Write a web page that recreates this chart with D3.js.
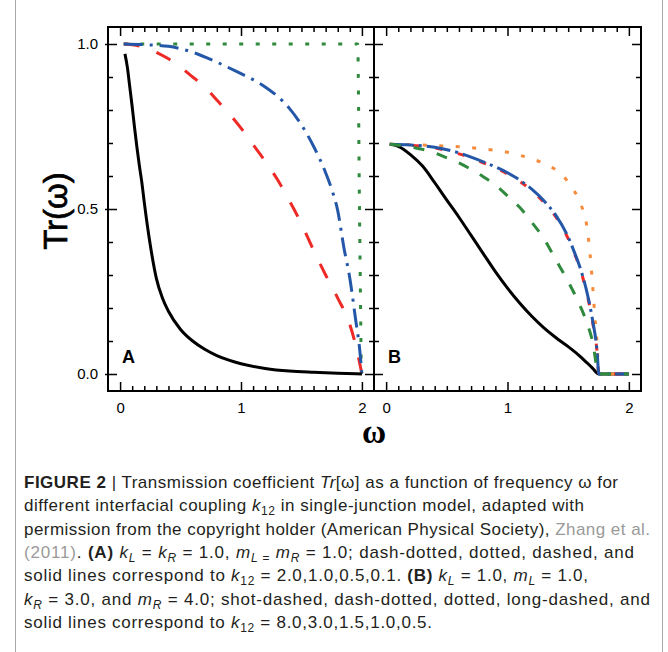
<!DOCTYPE html>
<html>
<head>
<meta charset="utf-8">
<script src="https://cdn.jsdelivr.net/npm/d3@7"></script>
<style>
  body { margin: 0; background: #fff; }
  svg { display: block; font-family: "Liberation Sans", Arial, Helvetica, sans-serif; }
</style>
</head>
<body>
<div id="chart"></div>
<script>
// Panel A: kL = kR = 1.0, mL = mR = 1.0
const omegaA_k20 = [0.03, 0.2, 0.4, 0.6, 0.8, 1.0, 1.1, 1.2, 1.3, 1.4, 1.5, 1.6, 1.7, 1.75, 1.8, 1.85, 1.9, 1.95, 1.98, 2.0];
const trA_k20 = [1.0, 0.998, 0.993, 0.975, 0.945, 0.91, 0.892, 0.87, 0.842, 0.805, 0.755, 0.69, 0.61, 0.56, 0.495, 0.385, 0.29, 0.16, 0.08, 0.0];

const omegaA_k10 = [0.03, 1.965, 1.98, 1.995];
const trA_k10 = [1.0, 1.0, 0.5, 0.0];

const omegaA_k05 = [0.03, 0.1, 0.2, 0.3, 0.4, 0.5, 0.6, 0.7, 0.8, 0.9, 1.0, 1.1, 1.2, 1.3, 1.4, 1.5, 1.6, 1.7, 1.8, 1.9, 1.95, 2.0];
const trA_k05 = [1.0, 0.998, 0.99, 0.975, 0.955, 0.93, 0.90, 0.87, 0.83, 0.79, 0.745, 0.695, 0.645, 0.59, 0.525, 0.455, 0.375, 0.30, 0.23, 0.15, 0.085, 0.0];

const omegaA_k01 = [0.04, 0.06, 0.08, 0.1, 0.12, 0.14, 0.16, 0.18, 0.2, 0.25, 0.3, 0.35, 0.4, 0.5, 0.6, 0.7, 0.8, 0.9, 1.0, 1.2, 1.4, 1.6, 1.8, 2.0];
const trA_k01 = [0.97, 0.93, 0.87, 0.81, 0.745, 0.685, 0.63, 0.58, 0.52, 0.39, 0.29, 0.23, 0.19, 0.135, 0.10, 0.075, 0.056, 0.042, 0.031, 0.017, 0.009, 0.005, 0.002, 0.0];

// Panel B: kL = 1.0, mL = 1.0, kR = 3.0, mR = 4.0
const omegaB_k80 = [0.03, 0.2, 0.4, 0.6, 0.8, 1.0, 1.1, 1.2, 1.3, 1.4, 1.5, 1.55, 1.6, 1.65, 1.7, 1.74, 1.752, 2.0];
const trB_k80 = [0.696, 0.693, 0.685, 0.667, 0.64, 0.606, 0.584, 0.556, 0.52, 0.475, 0.41, 0.367, 0.317, 0.25, 0.16, 0.058, 0.0, 0.0];

const omegaB_k30 = [0.03, 0.2, 0.4, 0.6, 0.8, 1.0, 1.1, 1.2, 1.3, 1.4, 1.5, 1.55, 1.6, 1.65, 1.7, 1.74, 1.752, 2.0];
const trB_k30 = [0.696, 0.694, 0.687, 0.67, 0.643, 0.61, 0.588, 0.56, 0.525, 0.48, 0.415, 0.37, 0.32, 0.255, 0.165, 0.06, 0.0, 0.0];

const omegaB_k15 = [0.03, 0.2, 0.4, 0.6, 0.8, 1.0, 1.1, 1.2, 1.3, 1.4, 1.5, 1.55, 1.6, 1.65, 1.68, 1.7, 1.72, 1.74, 1.752, 2.0];
const trB_k15 = [0.696, 0.695, 0.692, 0.689, 0.682, 0.672, 0.663, 0.652, 0.638, 0.618, 0.582, 0.555, 0.517, 0.456, 0.365, 0.275, 0.174, 0.083, 0.0, 0.0];

const omegaB_k10 = [0.03, 0.2, 0.4, 0.5, 0.6, 0.7, 0.8, 0.9, 1.0, 1.1, 1.2, 1.3, 1.4, 1.5, 1.6, 1.65, 1.7, 1.752, 2.0];
const trB_k10 = [0.696, 0.688, 0.67, 0.655, 0.64, 0.62, 0.598, 0.573, 0.54, 0.505, 0.46, 0.41, 0.345, 0.28, 0.205, 0.16, 0.10, 0.0, 0.0];

const omegaB_k05 = [0.03, 0.1, 0.2, 0.3, 0.4, 0.5, 0.6, 0.7, 0.8, 0.9, 1.0, 1.1, 1.2, 1.3, 1.4, 1.5, 1.6, 1.7, 1.752, 2.0];
const trB_k05 = [0.696, 0.69, 0.665, 0.63, 0.58, 0.527, 0.475, 0.42, 0.365, 0.31, 0.26, 0.215, 0.175, 0.14, 0.11, 0.083, 0.053, 0.018, 0.0, 0.0];

// Tick values and labels
const xMajorTicks = [0, 1, 2];
const xMinorTicks = [0.1, 0.2, 0.3, 0.4, 0.5, 0.6, 0.7, 0.8, 0.9, 1.1, 1.2, 1.3, 1.4, 1.5, 1.6, 1.7, 1.8, 1.9];
const yMajorTicks = [0, 0.5, 1.0];
const yMinorTicks = [0.1, 0.2, 0.3, 0.4, 0.6, 0.7, 0.8, 0.9];

// Caption lines (text, style)
const captionLines = [
    [["FIGURE 2", "bold"], [" | Transmission coefficient ", ""], ["Tr", "ital"], ["[ω] as a function of frequency ω for", ""]],
    [["different interfacial coupling ", ""], ["k", "ital"], ["12", "sub"], [" in single-junction model, adapted with", ""]],
    [["permission from the copyright holder (American Physical Society), ", ""], ["Zhang et al.", "gray"]],
    [["(2011)", "gray"], [". ", ""], ["(A)", "bold"], [" ", ""], ["k", "ital"], ["L", "subital"], [" = ", ""], ["k", "ital"], ["R", "subital"], [" = 1.0, ", ""], ["m", "ital"], ["L =", "subital"], [" ", ""], ["m", "ital"], ["R", "subital"], [" = 1.0; dash-dotted, dotted, dashed, and", ""]],
    [["solid lines correspond to ", ""], ["k", "ital"], ["12", "sub"], [" = 2.0,1.0,0.5,0.1. ", ""], ["(B)", "bold"], [" ", ""], ["k", "ital"], ["L", "subital"], [" = 1.0, ", ""], ["m", "ital"], ["L", "subital"], [" = 1.0,", ""]],
    [["k", "ital"], ["R", "subital"], [" = 3.0, and ", ""], ["m", "ital"], ["R", "subital"], [" = 4.0; shot-dashed, dash-dotted, dotted, long-dashed, and", ""]],
    [["solid lines correspond to ", ""], ["k", "ital"], ["12", "sub"], [" = 8.0,3.0,1.5,1.0,0.5.", ""]]
];
const captionWidths = [594, 560, 626, 610, 564, 626, 408];

const width = 668;
const height = 652;

const svg = d3.select("#chart")
    .append("svg")
    .attr("width", width)
    .attr("height", height);

// Frame lines of the figure box
[15.5, 662.5].forEach(x => {
    svg.append("line")
        .attr("x1", x).attr("x2", x)
        .attr("y1", 0).attr("y2", height)
        .attr("stroke", "#a8a8a8")
        .attr("stroke-width", 1);
});

// Scales
const plotTop = 27, plotBottom = 391;
const y = d3.scaleLinear().domain([-0.0515, 1.0515]).range([plotBottom, plotTop]);
const xA = d3.scaleLinear().domain([-0.1, 2.1]).range([108, 374]);
const xB = d3.scaleLinear().domain([-0.1, 2.1]).range([374, 641]);

const colors = {
    black: "#000000",
    red: "#ee2a27",
    blue: "#2457a8",
    green: "#2f8a3d",
    orange: "#f68b3b"
};

const panels = [
    {
        x: xA, label: "A", yLabels: true,
        curves: [
            { w: omegaA_k10, t: trA_k10, color: colors.green, dash: "4,12.5" },
            { w: omegaA_k05, t: trA_k05, color: colors.red, dash: "16,18" },
            { w: omegaA_k20, t: trA_k20, color: colors.blue, dash: "19,7,3,7" },
            { w: omegaA_k01, t: trA_k01, color: colors.black, dash: null }
        ]
    },
    {
        x: xB, label: "B", yLabels: false,
        curves: [
            { w: omegaB_k05, t: trB_k05, color: colors.black, dash: null },
            { w: omegaB_k15, t: trB_k15, color: colors.orange, dash: "4,12.5" },
            { w: omegaB_k80, t: trB_k80, color: colors.red, dash: "7,16" },
            { w: omegaB_k30, t: trB_k30, color: colors.blue, dash: "24,5,3,5" },
            { w: omegaB_k10, t: trB_k10, color: colors.green, dash: "11,13" }
        ]
    }
];

function styleAxis(g) {
    g.select(".domain").remove();
    g.selectAll(".tick line").attr("stroke", "#000").attr("stroke-width", 1.5);
    g.selectAll(".tick text")
        .attr("fill", "#000")
        .style("font-family", "'Liberation Sans', Arial, sans-serif")
        .style("font-size", "15px");
}

panels.forEach(p => {
    const x = p.x;
    const g = svg.append("g");

    // Curves
    const line = d3.line()
        .x(d => x(d[0]))
        .y(d => y(d[1]))
        .curve(d3.curveMonotoneX);

    p.curves.forEach(c => {
        g.append("path")
            .datum(d3.zip(c.w, c.t))
            .attr("d", line)
            .attr("fill", "none")
            .attr("stroke", c.color)
            .attr("stroke-width", 3)
            .attr("stroke-dasharray", c.dash);
    });

    // Bottom ticks
    g.append("g").attr("transform", `translate(0,${plotBottom})`)
        .call(d3.axisBottom(x).tickValues(xMinorTicks).tickSize(-5).tickFormat(""))
        .call(styleAxis);
    g.append("g").attr("transform", `translate(0,${plotBottom})`)
        .call(d3.axisBottom(x).tickValues(xMajorTicks).tickSize(-9).tickPadding(11).tickFormat(d3.format("d")))
        .call(styleAxis);

    // Top ticks
    g.append("g").attr("transform", `translate(0,${plotTop})`)
        .call(d3.axisTop(x).tickValues(xMinorTicks).tickSize(-5).tickFormat(""))
        .call(styleAxis);
    g.append("g").attr("transform", `translate(0,${plotTop})`)
        .call(d3.axisTop(x).tickValues(xMajorTicks).tickSize(-9).tickFormat(""))
        .call(styleAxis);

    // Left ticks
    const x0 = x.range()[0], x1 = x.range()[1];
    g.append("g").attr("transform", `translate(${x0},0)`)
        .call(d3.axisLeft(y).tickValues(yMinorTicks).tickSize(-5).tickFormat(""))
        .call(styleAxis);
    const leftMajor = g.append("g").attr("transform", `translate(${x0},0)`)
        .call(d3.axisLeft(y).tickValues(yMajorTicks).tickSize(-9).tickPadding(10)
            .tickFormat(p.yLabels ? d3.format(".1f") : ""))
        .call(styleAxis);
    if (p.yLabels) leftMajor.selectAll(".tick line").attr("x1", -3);

    // Right ticks
    g.append("g").attr("transform", `translate(${x1},0)`)
        .call(d3.axisRight(y).tickValues(yMinorTicks).tickSize(-5).tickFormat(""))
        .call(styleAxis);
    g.append("g").attr("transform", `translate(${x1},0)`)
        .call(d3.axisRight(y).tickValues(yMajorTicks).tickSize(-9).tickFormat(""))
        .call(styleAxis);

    // Frame
    g.append("rect")
        .attr("x", x0).attr("y", plotTop)
        .attr("width", x1 - x0).attr("height", plotBottom - plotTop)
        .attr("fill", "none")
        .attr("stroke", "#000")
        .attr("stroke-width", 2);

    // Panel letter
    g.append("text")
        .attr("x", x0 + 14)
        .attr("y", 363)
        .style("font-size", "18px")
        .style("font-weight", "bold")
        .text(p.label);
});

// Axis titles
svg.append("text")
    .attr("transform", "translate(67,211) rotate(-90)")
    .attr("text-anchor", "middle")
    .attr("stroke", "#000")
    .attr("stroke-width", 0.7)
    .style("font-size", "33px")
    .text("Tr(ω)");

svg.append("text")
    .attr("x", 374)
    .attr("y", 443)
    .attr("text-anchor", "middle")
    .style("font-family", "'Liberation Serif', 'Times New Roman', serif")
    .style("font-weight", "bold")
    .style("font-size", "33px")
    .text("ω");

// Caption
captionLines.forEach((segs, i) => {
    const t = svg.append("text")
        .attr("x", 24)
        .attr("y", 488 + i * 23.3)
        .attr("fill", "#231f20")
        .style("font-size", "17px");
    let shift = 0;
    segs.forEach(([str, st]) => {
        const sub = st.startsWith("sub");
        const newShift = sub ? 4 : 0;
        t.append("tspan")
            .attr("dy", newShift - shift)
            .style("font-size", sub ? "12px" : null)
            .style("font-weight", st === "bold" ? "bold" : null)
            .style("font-style", (st === "ital" || st === "subital") ? "italic" : null)
            .attr("fill", st === "gray" ? "#9a9a9a" : null)
            .text(str);
        shift = newShift;
    });
    // stretch the line to the measured width of the reference
    const n = t.text().length;
    const len = t.node().getComputedTextLength();
    t.style("letter-spacing", ((captionWidths[i] - len) / (n - 1)) + "px");
});
</script>
</body>
</html>
